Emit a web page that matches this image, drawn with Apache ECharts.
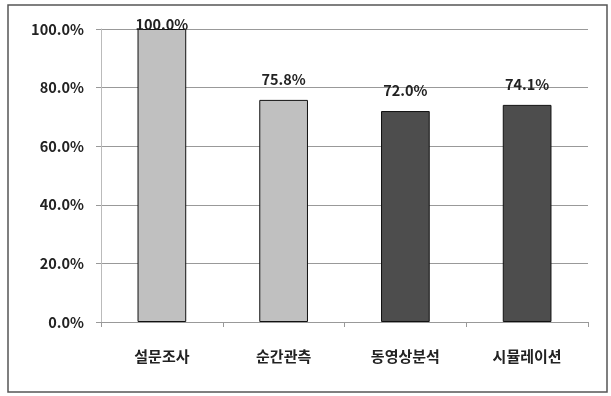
<!DOCTYPE html>
<html>
<head>
<meta charset="utf-8">
<script src="https://cdn.jsdelivr.net/npm/echarts@6/dist/echarts.min.js"></script>
<style>
  html, body { margin: 0; padding: 0; background: #fff; }
  #chart { width: 611px; height: 396px; }
</style>
</head>
<body>
<div id="chart"></div>
<script>
// 카테고리와 값 (%)
const categories = ['설문조사', '순간관측', '동영상분석', '시뮬레이션']
const values = [100.0, 75.8, 72.0, 74.1]
const barColors = ['#c0c0c0', '#c0c0c0', '#4d4d4d', '#4d4d4d']
const yTicks = [0, 20, 40, 60, 80, 100]

const font = '"Noto Sans CJK KR", "DejaVu Sans", sans-serif'

const chart = echarts.init(document.getElementById('chart'), null, { renderer: 'canvas' })

const option = {
  animation: false,
  backgroundColor: '#fff',
  graphic: [
    {
      type: 'rect',
      shape: { x: 8, y: 5, width: 599, height: 387 },
      style: { fill: 'none', stroke: '#555', lineWidth: 1.5 }
    }
  ],
  grid: { left: 101, right: 23, top: 29, bottom: 74 },
  xAxis: {
    type: 'category',
    data: categories,
    axisLine: { lineStyle: { color: '#999', width: 1 } },
    axisTick: { show: true, length: 5, lineStyle: { color: '#999' } },
    axisLabel: { color: '#222', fontFamily: font, fontSize: 15, fontWeight: 'bold', margin: 27 }
  },
  yAxis: {
    type: 'value',
    min: yTicks[0],
    max: yTicks[yTicks.length - 1],
    interval: 20,
    axisLine: { show: true, lineStyle: { color: '#bbb', width: 1 } },
    axisTick: { show: true, length: 5, lineStyle: { color: '#999' } },
    splitLine: { lineStyle: { color: '#999', width: 1 } },
    axisLabel: {
      color: '#222', fontFamily: font, fontSize: 14.5, fontWeight: 'bold', margin: 17,
      formatter: v => v.toFixed(1) + '%'
    }
  },
  series: [
    {
      type: 'bar',
      barWidth: '40%',
      data: values.map((v, i) => ({
        value: v,
        itemStyle: { color: barColors[i] },
        label: { distance: i === 0 ? -3 : 13 }
      })),
      itemStyle: { borderColor: '#111', borderWidth: 1 },
      label: {
        show: true,
        position: 'top',
        color: '#222',
        fontFamily: font,
        fontSize: 14.5,
        fontWeight: 'bold',
        formatter: p => p.value.toFixed(1) + '%'
      }
    }
  ]
}

chart.setOption(option)
</script>
</body>
</html>
